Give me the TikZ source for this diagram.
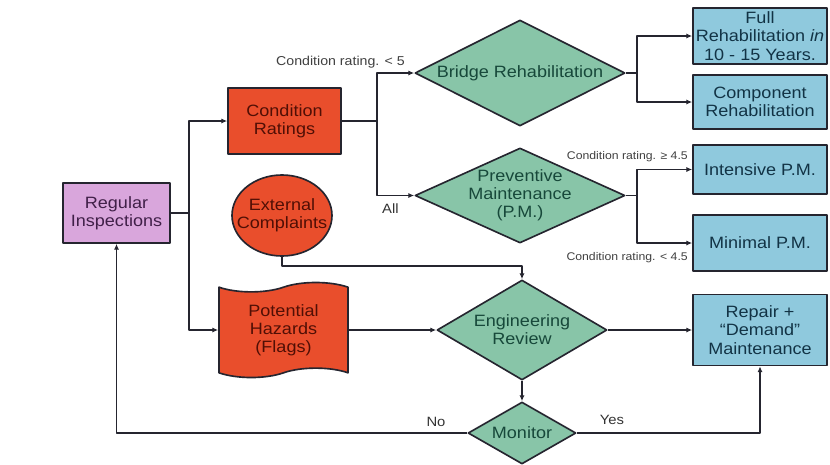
\documentclass[tikz,border=0pt]{standalone}
\usepackage{fontspec}
\setmainfont{Liberation Sans}[FakeStretch=1.1]
\usetikzlibrary{shapes.geometric,shapes.symbols,arrows.meta}
\definecolor{lavfill}{HTML}{D9A6DC}
\definecolor{lavtext}{HTML}{402048}
\definecolor{redfill}{HTML}{E94E2C}
\definecolor{redtext}{HTML}{500F05}
\definecolor{greenfill}{HTML}{88C5A8}
\definecolor{greentext}{HTML}{17483A}
\definecolor{bluefill}{HTML}{8FC9DD}
\definecolor{bluetext}{HTML}{123345}
\definecolor{edge}{HTML}{25252F}
\begin{document}
\begin{tikzpicture}[x=0.03cm,y=-0.03cm,>={Latex[length=5pt,width=4.5pt]},line join=round,
  every node/.style={font=\fontsize{14}{15.5}\selectfont,align=center,inner sep=0pt},
  conn/.style={draw=edge,line width=1.4pt},
  inspbox/.style={rectangle,draw=edge,line width=1.4pt,fill=lavfill,text=lavtext},
  redbox/.style={draw=edge,line width=1.4pt,fill=redfill,text=redtext},
  decision/.style={diamond,aspect=2,draw=edge,line width=1.4pt,fill=greenfill,text=greentext},
  bluebox/.style={rectangle,draw=edge,line width=1.4pt,fill=bluefill,text=bluetext,minimum width=4.02cm},
  ratelbl/.style={font=\fontsize{9.5}{11}\selectfont,text=black!75},
  yeslbl/.style={font=\fontsize{11.5}{13}\selectfont,text=black!80}]
\useasboundingbox (0,0) rectangle (830,464);
% left column
\node[inspbox,minimum width=3.21cm,minimum height=1.8cm] (insp) at (116.5,213) {Regular\\Inspections};
\node[redbox,rectangle,minimum width=3.39cm,minimum height=1.98cm] (cond) at (284.5,121) {Condition\\Ratings};
\node[redbox,ellipse,inner xsep=-12pt,minimum width=3.0cm,minimum height=2.43cm] (ext) at (282,215.5) {External\\Complaints};
\node[redbox,tape,tape bend height=8pt,minimum width=3.87cm,minimum height=2.85cm] (haz) at (283.5,330) {Potential\\Hazards\\(Flags)};
% decisions
\node[decision,minimum width=6.3cm,minimum height=3.18cm] (bridge) at (520,73) {Bridge Rehabilitation};
\node[decision,aspect=2.2,inner xsep=-8pt,minimum width=6.3cm,minimum height=2.85cm] (prev) at (520,195.5) {Preventive\\Maintenance\\(P.M.)};
\node[decision,minimum width=5.1cm,minimum height=3.0cm] (eng) at (522,330) {Engineering\\Review};
\node[decision,aspect=1.7,minimum width=3.24cm,minimum height=1.86cm] (mon) at (522,433) {Monitor};
% outcomes
\node[bluebox,minimum height=1.68cm] (full) at (760,36) {Full\\Rehabilitation \textit{in}\\10 - 15 Years.};
\node[bluebox,minimum height=1.62cm] (comp) at (760,102) {Component\\Rehabilitation};
\node[bluebox,minimum height=1.47cm] (ipm) at (760,169.5) {Intensive P.M.};
\node[bluebox,minimum height=1.68cm] (mpm) at (760,243) {Minimal P.M.};
\node[bluebox,minimum height=2.13cm] (rep) at (760,330) {Repair +\\``Demand''\\Maintenance};
% junctions
\coordinate (ji) at (189,213);
\coordinate (jc) at (377,121);
\coordinate (jb) at (637,73);
\coordinate (jp) at (637,195.5);
\draw[conn] (insp.east) -- (ji);
\draw[conn,->] (ji) |- (cond.west);
\draw[conn,->] (ji) |- (haz.west);
\draw[conn] (cond.east) -- (jc);
\draw[conn,->] (jc) |- (bridge.west);
\draw[conn,->] (jc) |- (prev.west);
\draw[conn] (bridge.east) -- (jb);
\draw[conn,->] (jb) |- (full.west);
\draw[conn,->] (jb) |- (comp.west);
\draw[conn] (prev.east) -- (jp);
\draw[conn,->] (jp) |- (ipm.west);
\draw[conn,->] (jp) |- (mpm.west);
\draw[conn,->] (ext.south) -- ++(0,9) -| (eng.north);
\draw[conn,->] (haz.east) -- (eng.west);
\draw[conn,->] (eng.east) -- (rep.west);
\draw[conn,->] (eng.south) -- (mon.north);
\draw[conn,->] (mon.east) -| (rep.south);
\draw[conn,->] (mon.west) -| (insp.south);
% labels
\node[ratelbl,font=\fontsize{11}{13}\selectfont,anchor=east] (lt5) at (405,62) {Condition rating. < 5};
\node[yeslbl,anchor=west] (lall) at (382,209) {All};
\node[ratelbl,anchor=east] (lge) at (688,157) {Condition rating. ≥ 4.5};
\node[ratelbl,anchor=east] (llt) at (688,258) {Condition rating. < 4.5};
\node[yeslbl] (lno) at (436,422) {No};
\node[yeslbl] (lyes) at (612,420) {Yes};
\end{tikzpicture}
\end{document}
